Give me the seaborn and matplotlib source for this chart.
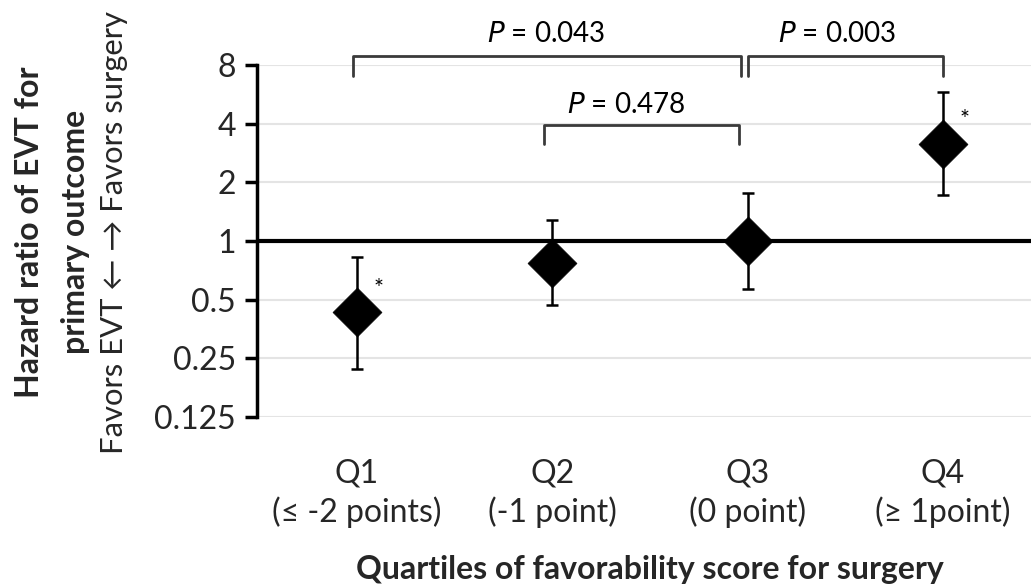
import matplotlib
matplotlib.use("Agg")
import matplotlib.pyplot as plt
import matplotlib.transforms as mtransforms
import seaborn as sns
import numpy as np
import pandas as pd

# ---- data ----
quartiles = ["Q1", "Q2", "Q3", "Q4"]
quartile_desc = ["(≤ -2 points)", "(-1 point)", "(0 point)", "(≥ 1point)"]
hazard_ratio = [0.43, 0.77, 1.00, 3.15]
ci_low = [0.22, 0.47, 0.57, 1.73]
ci_high = [0.83, 1.28, 1.76, 5.80]
significant = [True, False, False, True]
y_ticks = [0.125, 0.25, 0.5, 1, 2, 4, 8]
y_tick_labels = ["0.125", "0.25", "0.5", "1", "2", "4", "8"]
comparisons = [("Q1", "Q3", "P = 0.043"), ("Q3", "Q4", "P = 0.003"), ("Q2", "Q3", "P = 0.478")]

sns.set_theme(style="white")
FAM = ["Lato", "DejaVu Sans"]
plt.rcParams["font.family"] = FAM

df = pd.DataFrame({"quartile": quartiles, "hr": hazard_ratio,
                   "lo": ci_low, "hi": ci_high})
df["pos"] = np.arange(len(df))

fig = plt.figure(figsize=(10.31, 5.88), dpi=100)
ax = fig.add_axes([257 / 1031, 1 - 417 / 588, 1 - 257 / 1031, (417 - 65) / 588])

ax.set_yscale("log", base=2)
ax.set_ylim(0.125, 8)
ax.set_xlim(-0.51, 3.45)

# gridlines
for t in y_ticks:
    ax.axhline(t, color="#e4e4e4", lw=1.5, zorder=0)
ax.axhline(1, color="black", lw=3, zorder=1)

# error bars
ax.errorbar(df["pos"], df["hr"],
            yerr=[df["hr"] - df["lo"], df["hi"] - df["hr"]],
            fmt="none", ecolor="black", elinewidth=1.8, capsize=4, capthick=1.8, zorder=2)

sns.scatterplot(data=df, x="pos", y="hr", marker="D", s=620, color="black",
                edgecolor="black", linewidth=0.5, ax=ax, zorder=3, legend=False)

# asterisks
for i, sig in enumerate(significant):
    if sig:
        ax.text(i + 0.11, df["hr"][i] * 1.33, "*", ha="center", va="center",
                fontsize=17, color="black")

# brackets
idx = {q: i for i, q in enumerate(quartiles)}
br_specs = {
    ("Q1", "Q3"): (8.9, 7.0, -0.02, -0.035, 11.5, 0.97),
    ("Q3", "Q4"): (8.9, 7.0, 0.0, 0.0, 11.5, 2.46),
    ("Q2", "Q3"): (3.94, 3.13, -0.04, -0.045, 5.0, 1.38),
}
for a, b, label in comparisons:
    ytop, yleg, da, db, ytxt, xtxt = br_specs[(a, b)]
    xa, xb = idx[a] + da, idx[b] + db
    ax.plot([xa, xa, xb, xb], [yleg, ytop, ytop, yleg], color="#3a3a3a",
            lw=2, clip_on=False, zorder=2)
    pval = label.split("=")[1].strip()
    ax.text(xtxt, ytxt, r"$\it{P}$" + " = " + pval, ha="center", va="center",
            fontsize=20, color="black", clip_on=False)

# axes styling
for s in ["top", "right", "bottom"]:
    ax.spines[s].set_visible(False)
ax.spines["left"].set_color("black")
ax.spines["left"].set_linewidth(2.5)
ax.set_yticks(y_ticks)
ax.set_yticklabels(y_tick_labels)
ax.yaxis.set_minor_locator(matplotlib.ticker.NullLocator())
ax.tick_params(axis="y", which="major", length=9, width=2.5, color="black",
               labelsize=23, pad=6, left=True)
ax.set_xticks(df["pos"])
ax.set_xticklabels([f"{q}\n{d}" for q, d in zip(quartiles, quartile_desc)],
                   linespacing=1.3)
ax.tick_params(axis="x", length=0, labelsize=23, pad=30)
for lbl in ax.get_xticklabels() + ax.get_yticklabels():
    lbl.set_family(FAM)
ax.set_xlabel("")
ax.set_ylabel("")

# x axis title
tr = mtransforms.blended_transform_factory(ax.transData, fig.transFigure)
ax.text(1.5, 1 - 570 / 588, "Quartiles of favorability score for surgery",
        transform=tr, ha="center", va="center", fontsize=23, fontweight="bold")

# y axis title (three lines)
yc = 1 - 232 / 588
fig.text(30 / 1031, yc, "Hazard ratio of EVT for", rotation=90, ha="center",
         va="center", fontsize=23, fontweight="bold")
fig.text(75 / 1031, yc, "primary outcome", rotation=90, ha="center",
         va="center", fontsize=23, fontweight="bold")
fig.text(114 / 1031, yc, "Favors EVT \u2190 \u2192 Favors surgery", rotation=90,
         ha="center", va="center", fontsize=22.3, family=FAM)

fig.savefig("out.png", dpi=100)
